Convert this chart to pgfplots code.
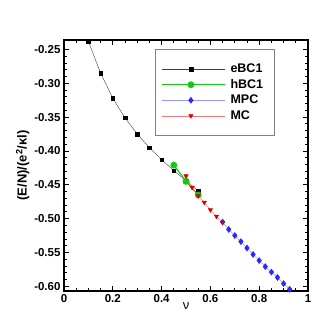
\documentclass[border=0pt]{standalone}
\usepackage{pgfplots}
\pgfplotsset{compat=1.18}
\usepackage{fontspec}
\setmainfont{Liberation Sans}
\definecolor{mygreen}{RGB}{20,200,20}
\definecolor{myblue}{RGB}{40,40,255}
\definecolor{mylblue}{RGB}{150,150,255}
\definecolor{myred}{RGB}{220,0,0}
\definecolor{mylred}{RGB}{240,120,120}
\begin{document}
\begin{tikzpicture}[x=1pt,y=1pt]
\path[use as bounding box] (-64,-38) rectangle (265,291);
\begin{axis}[
  at={(0,0)}, anchor=south west,
  scale only axis, width=244pt, height=251pt,
  xmin=0, xmax=1, ymin=-0.607, ymax=-0.236,
  xtick={0,0.2,0.4,0.6,0.8,1},
  xticklabels={0,0.2,0.4,0.6,0.8,1},
  ytick={-0.60,-0.55,-0.50,-0.45,-0.40,-0.35,-0.30,-0.25},
  yticklabels={-0.60,-0.55,-0.50,-0.45,-0.40,-0.35,-0.30,-0.25},
  minor x tick num=3, minor y tick num=4,
  tick align=inside, tick style={black, line width=0.8pt},
  major tick length=5pt, minor tick length=3pt,
  axis line style={line width=1.5pt},
  ticklabel style={font=\bfseries\fontsize{11.5}{13}\selectfont},
  xlabel={ν}, xlabel style={font=\fontsize{13}{15}\selectfont, yshift=7pt},
  ylabel={(E/N)/(e\textsuperscript{2}/κl)},
  ylabel style={font=\bfseries\fontsize{13}{15}\selectfont, yshift=-2pt},
  legend style={at={(axis cs:0.373,-0.2496)}, anchor=north west, draw=gray, line width=0.6pt,
     font=\bfseries\fontsize{12.5}{15}\selectfont, inner xsep=6pt, inner ysep=12pt,
     row sep=0pt, nodes={text height=9pt, text depth=2.5pt, inner ysep=2pt, inner xsep=5pt}},
  legend cell align=left,
  legend image code/.code={\path (0pt,0pt) -- (63pt,0pt); \draw[#1] (2pt,0pt) -- (56pt,0pt); \draw[#1, only marks] plot coordinates {(29pt,0pt)};},
]
\addplot[black!75, line width=0.4pt, mark=square*, mark size=1.8pt, mark options={solid, black}] coordinates {
(0.10,-0.238) (0.15,-0.285) (0.20,-0.322) (0.25,-0.351) (0.30,-0.375)
(0.35,-0.395) (0.40,-0.413) (0.45,-0.429) (0.50,-0.444) (0.55,-0.459)};
\addlegendentry{eBC1}
\addplot[mygreen, line width=1.2pt, mark=*, mark size=2.8pt] coordinates {
(0.45,-0.421) (0.50,-0.445) (0.55,-0.465)};
\addlegendentry{hBC1}
\addplot[mylblue, line width=0.5pt, mark=diamond*, mark size=3pt, mark options={fill=myblue, draw=myblue}] coordinates {
(0.65,-0.505) (0.675,-0.516) (0.70,-0.525) (0.725,-0.534) (0.75,-0.5435) (0.775,-0.553)
(0.80,-0.562) (0.825,-0.571) (0.85,-0.579) (0.875,-0.587) (0.90,-0.596) (0.925,-0.6045)};
\addlegendentry{MPC}
\addplot[mylred, line width=0.5pt, mark=triangle*, mark size=2.5pt, mark options={rotate=180, fill=myred, draw=myred}] coordinates {
(0.50,-0.437) (0.525,-0.454) (0.55,-0.4665) (0.575,-0.476) (0.60,-0.487) (0.625,-0.4966) (0.65,-0.5055)};
\addlegendentry{MC}
\end{axis}
\end{tikzpicture}
\end{document}
